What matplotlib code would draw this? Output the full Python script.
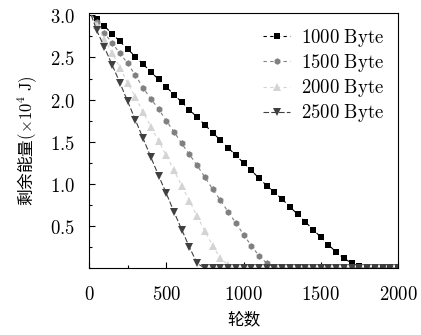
import numpy as np
import matplotlib
matplotlib.use('Agg')
from matplotlib import pyplot as plt
from matplotlib.ticker import MultipleLocator, FuncFormatter

plt.rcParams['font.family'] = ['Noto Sans CJK SC', 'DejaVu Sans']
plt.rcParams['mathtext.fontset'] = 'cm'

# rounds: first entry is the initial state, then one sample every 50 rounds
rounds = [15] + list(range(50, 2001, 50))

energy_1000 = [3.0,
               2.95, 2.87, 2.78, 2.69, 2.60, 2.51, 2.42, 2.33, 2.24, 2.15,
               2.06, 1.97, 1.88, 1.79, 1.70, 1.61, 1.52, 1.43, 1.34, 1.25,
               1.16, 1.07, 0.98, 0.90, 0.82, 0.73, 0.64, 0.55, 0.46, 0.37,
               0.28, 0.19, 0.12, 0.06, 0.03, 0.01, 0.0, 0.0, 0.0, 0.0]
energy_1500 = [3.0,
               2.92, 2.79, 2.67, 2.55, 2.43, 2.29, 2.14, 2.01, 1.89, 1.75,
               1.62, 1.48, 1.35, 1.22, 1.08, 0.94, 0.81, 0.67, 0.54, 0.40,
               0.27, 0.15, 0.06, 0.01, 0.0, 0.0, 0.0, 0.0, 0.0, 0.0,
               0.0, 0.0, 0.0, 0.0, 0.0, 0.0, 0.0, 0.0, 0.0, 0.0]
energy_2000 = [3.0,
               2.88, 2.72, 2.55, 2.38, 2.20, 2.03, 1.85, 1.68, 1.51, 1.34,
               1.16, 0.98, 0.80, 0.62, 0.44, 0.27, 0.12, 0.04, 0.0, 0.0,
               0.0, 0.0, 0.0, 0.0, 0.0, 0.0, 0.0, 0.0, 0.0, 0.0,
               0.0, 0.0, 0.0, 0.0, 0.0, 0.0, 0.0, 0.0, 0.0, 0.0]
energy_2500 = [3.0,
               2.82, 2.62, 2.41, 2.20, 1.98, 1.76, 1.54, 1.32, 1.10, 0.89,
               0.67, 0.46, 0.25, 0.06, 0.0, 0.0, 0.0, 0.0, 0.0, 0.0,
               0.0, 0.0, 0.0, 0.0, 0.0, 0.0, 0.0, 0.0, 0.0, 0.0,
               0.0, 0.0, 0.0, 0.0, 0.0, 0.0, 0.0, 0.0, 0.0, 0.0]

series = [
    ('1000', energy_1000, 's', 4.4, '#000000', (0, (3, 3))),
    ('1500', energy_1500, 'h', 4.8, '#808080', (0, (3, 3))),
    ('2000', energy_2000, '^', 6.0, '#d4d4d4', (0, (3, 3))),
    ('2500', energy_2500, 'v', 6.0, '#404040', (0, (5, 2))),
]

fig = plt.figure(figsize=(4.21, 3.35), dpi=100)
ax = fig.add_axes([0.2114, 0.199, 0.734, 0.763])

for name, values, marker, ms, color, ls in series:
    ax.plot(rounds, values, linestyle=ls, linewidth=0.8, color=color,
            marker=marker, markersize=ms, markeredgewidth=0,
            markevery=slice(1, None),
            label=r'$\mathrm{%s\ Byte}$' % name)

ax.set_xlim(0, 2000)
ax.set_ylim(0, 3.03)

ax.xaxis.set_major_locator(MultipleLocator(500))
ax.xaxis.set_minor_locator(MultipleLocator(250))
ax.set_yticks([0.5, 1.0, 1.5, 2.0, 2.5, 3.0])
ax.yaxis.set_minor_locator(MultipleLocator(0.25))

ax.xaxis.set_major_formatter(FuncFormatter(lambda v, p: r'$%d$' % v))
ax.yaxis.set_major_formatter(FuncFormatter(lambda v, p: r'$%.1f$' % v))

ax.tick_params(which='both', direction='in', top=False, right=False, labelsize=13.5)
ax.tick_params(which='major', length=4, width=0.8)
ax.tick_params(axis='y', which='major', pad=10)
ax.tick_params(axis='x', which='major', pad=11)
ax.tick_params(which='minor', length=2.5, width=0.8)
for s in ax.spines.values():
    s.set_linewidth(0.8)

ax.set_xlabel('轮数', fontsize=12, labelpad=5)
ax.set_ylabel('剩余能量' + r'$(\times 10^4\ \mathrm{J})$', fontsize=12, labelpad=8)

ax.legend(loc='upper right', frameon=False, fontsize=13.5, handlelength=1.45,
          handletextpad=0.55, labelspacing=0.17, borderaxespad=0.35)

fig.savefig('out.png', dpi=100)
